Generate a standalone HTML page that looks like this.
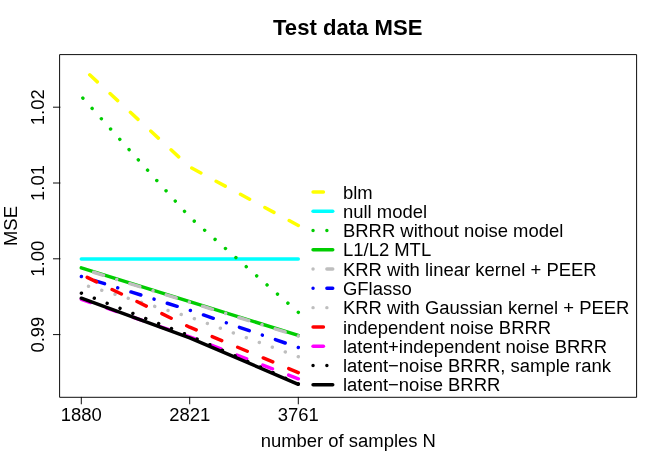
<!DOCTYPE html>
<html><head><meta charset="utf-8"><title>Test data MSE</title>
<style>
html,body{margin:0;padding:0;background:#fff;}
body{width:664px;height:465px;overflow:hidden;}
svg{display:block;will-change:transform;}
text{font-family:"Liberation Sans",sans-serif;fill:#000;}
</style></head><body>
<svg width="664" height="465" viewBox="0 0 664 465">
<rect x="0" y="0" width="664" height="465" fill="#ffffff"/>
<g fill="none" stroke-width="3.458" stroke-linecap="round" stroke-linejoin="round">
<polyline points="298.3,225.5 189.7,167.0 81.3,67.1" stroke="#ffff00" stroke-dasharray="10.374 17.290"/>
<polyline points="298.3,258.9 189.7,258.9 81.3,258.9" stroke="#00ffff"/>
<polyline points="298.3,312.3 189.7,217.1 81.3,96.4" stroke="#00cd00" stroke-dasharray="0.001 13.832"/>
<polyline points="298.3,335.4 189.7,301.6 81.3,267.8" stroke="#00cd00"/>
<polyline points="298.3,336.0 189.7,302.2 81.3,268.4" stroke="#bebebe" stroke-dasharray="0.001 13.832 10.374 13.832"/>
<polyline points="298.3,347.5 189.7,310.2 81.3,276.5" stroke="#0000ff" stroke-dasharray="0.001 13.832 10.374 13.832"/>
<polyline points="298.3,356.7 189.7,317.0 81.3,284.1" stroke="#bebebe" stroke-dasharray="0.001 13.832"/>
<polyline points="298.3,372.6 189.7,327.2 81.3,274.5" stroke="#ff0000" stroke-dasharray="10.374 17.290"/>
<polyline points="298.3,378.8 189.7,336.9 81.3,299.3" stroke="#ff00ff" stroke-dasharray="10.374 17.290"/>
<polyline points="298.3,384.3 189.7,337.9 81.3,298.2" stroke="#000000"/>
<polyline points="298.3,383.9 189.7,335.8 81.2,293.1" stroke="#000000" stroke-dasharray="0.001 13.832"/>
<line x1="313.05" y1="191.90" x2="332.75" y2="191.90" stroke="#ffff00" stroke-dasharray="10.374 17.290"/>
<line x1="313.05" y1="211.19" x2="332.75" y2="211.19" stroke="#00ffff"/>
<line x1="313.05" y1="230.48" x2="332.75" y2="230.48" stroke="#00cd00" stroke-dasharray="0.001 13.832"/>
<line x1="313.05" y1="249.77" x2="332.75" y2="249.77" stroke="#00cd00"/>
<line x1="313.05" y1="269.06" x2="332.75" y2="269.06" stroke="#bebebe" stroke-dasharray="0.001 13.832 10.374 13.832"/>
<line x1="313.05" y1="288.35" x2="332.75" y2="288.35" stroke="#0000ff" stroke-dasharray="0.001 13.832 10.374 13.832"/>
<line x1="313.05" y1="307.64" x2="332.75" y2="307.64" stroke="#bebebe" stroke-dasharray="0.001 13.832"/>
<line x1="313.05" y1="326.93" x2="332.75" y2="326.93" stroke="#ff0000" stroke-dasharray="10.374 17.290"/>
<line x1="313.05" y1="346.22" x2="332.75" y2="346.22" stroke="#ff00ff" stroke-dasharray="10.374 17.290"/>
<line x1="313.05" y1="365.51" x2="332.75" y2="365.51" stroke="#000000" stroke-dasharray="0.001 13.832"/>
<line x1="313.05" y1="384.80" x2="332.75" y2="384.80" stroke="#000000"/>
</g>
<g fill="none" stroke="#000" stroke-width="0.95" stroke-linecap="round" stroke-linejoin="round">
<rect x="60.0" y="54.6" width="576.6" height="342.7"/>
<line x1="81.3" y1="397.3" x2="81.3" y2="403.90000000000003"/>
<line x1="189.7" y1="397.3" x2="189.7" y2="403.90000000000003"/>
<line x1="298.3" y1="397.3" x2="298.3" y2="403.90000000000003"/>
<line x1="60.0" y1="107.2" x2="53.4" y2="107.2"/>
<line x1="60.0" y1="183.0" x2="53.4" y2="183.0"/>
<line x1="60.0" y1="258.8" x2="53.4" y2="258.8"/>
<line x1="60.0" y1="334.6" x2="53.4" y2="334.6"/>
</g>
<g font-size="18.45" text-anchor="middle">
<text x="81.3" y="420.6">1880</text>
<text x="189.7" y="420.6">2821</text>
<text x="298.3" y="420.6">3761</text>
<text transform="translate(43.6,107.2) rotate(-90)">1.02</text>
<text transform="translate(43.6,183.0) rotate(-90)">1.01</text>
<text transform="translate(43.6,258.8) rotate(-90)">1.00</text>
<text transform="translate(43.6,334.6) rotate(-90)">0.99</text>
<text x="348.3" y="447.1">number of samples N</text>
<text transform="translate(17.2,226.0) rotate(-90)">MSE</text>
</g>
<text x="347.7" y="35.1" font-size="22.1" font-weight="bold" text-anchor="middle">Test data MSE</text>
<g font-size="18.45">
<text x="343.0" y="198.50">blm</text>
<text x="343.0" y="217.79">null model</text>
<text x="343.0" y="237.08">BRRR without noise model</text>
<text x="343.0" y="256.37">L1/L2 MTL</text>
<text x="343.0" y="275.66">KRR with linear kernel + PEER</text>
<text x="343.0" y="294.95">GFlasso</text>
<text x="343.0" y="314.24">KRR with Gaussian kernel + PEER</text>
<text x="343.0" y="333.53">independent noise BRRR</text>
<text x="343.0" y="352.82">latent+independent noise BRRR</text>
<text x="343.0" y="372.11">latent−noise BRRR, sample rank</text>
<text x="343.0" y="391.40">latent−noise BRRR</text>
</g>
</svg>
</body></html>
